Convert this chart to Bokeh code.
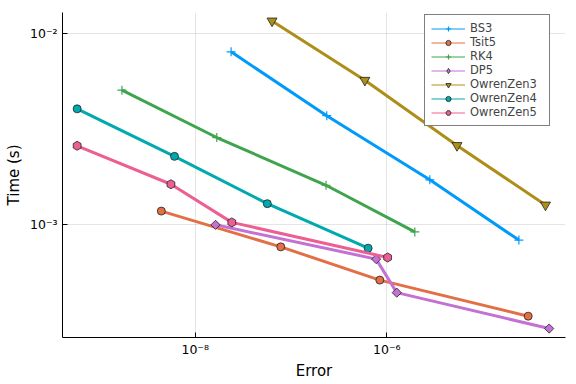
import math
from bokeh.plotting import figure
from bokeh.models import Range1d, FixedTicker, Legend, LegendItem
from bokeh.embed import file_html
from bokeh.resources import INLINE

# ---- data (Error, Time) ----
bs3_err = [2.37e-8, 2.36e-7, 2.81e-6, 2.39e-5]
bs3_time = [8.02e-3, 3.72e-3, 1.72e-3, 8.32e-4]
tsit5_err = [4.43e-9, 7.82e-8, 8.45e-7, 2.99e-5]
tsit5_time = [1.18e-3, 7.67e-4, 5.14e-4, 3.33e-4]
rk4_err = [1.72e-9, 1.68e-8, 2.32e-7, 1.96e-6]
rk4_time = [5.06e-3, 2.86e-3, 1.61e-3, 9.18e-4]
dp5_err = [1.63e-8, 7.74e-7, 1.27e-6, 4.95e-5]
dp5_time = [1.00e-3, 6.62e-4, 4.42e-4, 2.87e-4]
oz3_err = [6.34e-8, 5.90e-7, 5.40e-6, 4.53e-5]
oz3_time = [1.164e-2, 5.70e-3, 2.60e-3, 1.27e-3]
oz4_err = [5.86e-10, 6.08e-9, 5.66e-8, 6.38e-7]
oz4_time = [4.04e-3, 2.28e-3, 1.29e-3, 7.55e-4]
oz5_err = [5.86e-10, 5.58e-9, 2.41e-8, 1.02e-6]
oz5_time = [2.59e-3, 1.63e-3, 1.03e-3, 6.75e-4]

names = ["BS3", "Tsit5", "RK4", "DP5", "OwrenZen3", "OwrenZen4", "OwrenZen5"]
colors = ["#009AFA", "#E36F47", "#3EA44E", "#C371D2", "#AC8E18", "#00A9AD", "#ED5E93"]
markers = ["cross", "circle", "cross", "diamond", "inverted_triangle", "circle", "hex"]
xs = [bs3_err, tsit5_err, rk4_err, dp5_err, oz3_err, oz4_err, oz5_err]
ys = [bs3_time, tsit5_time, rk4_time, dp5_time, oz3_time, oz4_time, oz5_time]

x_ticks = [1e-8, 1e-6]
x_labels = ["10⁻⁸", "10⁻⁶"]
y_ticks = [1e-3, 1e-2]
y_labels = ["10⁻³", "10⁻²"]

FONT = "DejaVu Sans"

p = figure(width=576, height=384, x_axis_type="log", y_axis_type="log",
           x_range=Range1d(10 ** -9.385, 10 ** -4.135),
           y_range=Range1d(10 ** -3.589, 10 ** -1.89),
           output_backend="svg", toolbar_location=None,
           min_border_left=62, min_border_right=11, min_border_top=12, min_border_bottom=47)
p.outline_line_color = None
p.background_fill_color = "white"
p.border_fill_color = "white"

outline = dict(line_color="#222222", line_width=0.8)
items = []
for name, c, m, x, y in zip(names, colors, markers, xs, ys):
    p.line(x, y, line_color=c, line_width=3)
    leg_marker = None
    if m == "cross":
        sc = p.scatter(x, y, marker="cross", size=9, line_color=c, line_width=1.2)
    elif m == "diamond":
        sc = p.scatter(x, y, marker="square", size=6.5, angle=math.pi / 4, fill_color=c, **outline)
        leg_marker = p.scatter(x, y, marker="diamond", size=9, fill_color=c, visible=False, **outline)
    elif m == "hex":
        sc = p.scatter(x, y, marker="hex", size=9, angle=math.pi / 6, fill_color=c, **outline)
    elif m == "inverted_triangle":
        sc = p.scatter(x, y, marker="inverted_triangle", size=10, fill_color=c, **outline)
    else:
        sc = p.scatter(x, y, marker="circle", size=8, fill_color=c, **outline)
    # thin, hidden line used only as the legend sample
    leg_line = p.line(x, y, line_color=c, line_width=1, visible=False)
    items.append(LegendItem(label=name, renderers=[leg_line, leg_marker or sc]))

legend = Legend(items=items, location=(362, 211), margin=0, padding=6, spacing=0,
                glyph_width=34, glyph_height=13, label_height=13, label_width=73,
                label_standoff=5,
                label_text_font=FONT, label_text_font_size="11.5px",
                border_line_color="black", border_line_width=1,
                background_fill_color="white", background_fill_alpha=1)
p.add_layout(legend)

for ax, ticks, labels in ((p.xaxis[0], x_ticks, x_labels), (p.yaxis[0], y_ticks, y_labels)):
    ax.ticker = FixedTicker(ticks=ticks, minor_ticks=[])
    ax.major_label_overrides = {t: l for t, l in zip(ticks, labels)}
    ax.major_tick_in = 5
    ax.major_tick_out = 0
    ax.minor_tick_in = 0
    ax.minor_tick_out = 0
    ax.axis_line_color = "black"
    ax.major_tick_line_color = "black"
    ax.major_label_text_font = FONT
    ax.major_label_text_font_size = "12.5px"
    ax.major_label_text_color = "black"
    ax.axis_label_text_font = FONT
    ax.axis_label_text_font_size = "15px"
    ax.axis_label_text_font_style = "normal"
    ax.axis_label_text_color = "black"

p.xaxis.major_label_standoff = 4
p.xaxis.axis_label_standoff = 2
p.yaxis.major_label_standoff = 5
p.yaxis.axis_label_standoff = 4

p.xaxis.axis_label = "Error"
p.yaxis.axis_label = "Time (s)"

p.xgrid.ticker = FixedTicker(ticks=x_ticks, minor_ticks=[])
p.ygrid.ticker = FixedTicker(ticks=y_ticks, minor_ticks=[])
for g in (p.xgrid[0], p.ygrid[0]):
    g.grid_line_color = "black"
    g.grid_line_alpha = 0.1
    g.grid_line_width = 1

open("out.html", "w").write(file_html(p, INLINE))
